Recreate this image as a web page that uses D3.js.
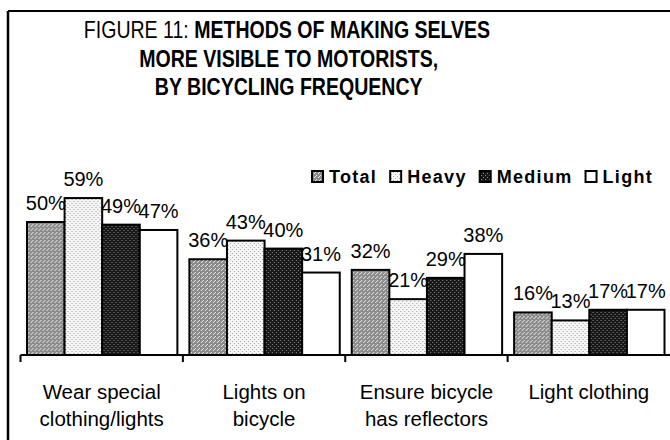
<!DOCTYPE html>
<html><head><meta charset="utf-8">
<script src="https://cdn.jsdelivr.net/npm/d3@7"></script>
<style>
html,body{margin:0;padding:0;background:#fff;}
svg{display:block;font-family:"Liberation Sans",Arial,sans-serif;}
</style></head>
<body>
<svg id="chart" width="670" height="440"></svg>
<script>
const categories = [["Wear special","clothing/lights"],["Lights on","bicycle"],["Ensure bicycle","has reflectors"],["Light clothing"]];
const seriesNames = ["Total","Heavy","Medium","Light"];
const totalVals  = [50,36,32,16];
const heavyVals  = [59,43,21,13];
const mediumVals = [49,40,29,17];
const lightVals  = [47,31,38,17];
const titleLines = ["MORE VISIBLE TO MOTORISTS,","BY BICYCLING FREQUENCY"];

const svg = d3.select("#chart");
const defs = svg.append("defs");

function pat(id, bg, dot, size, dots){
  const p = defs.append("pattern").attr("id",id).attr("patternUnits","userSpaceOnUse")
    .attr("width",size).attr("height",size);
  p.append("rect").attr("width",size).attr("height",size).attr("fill",bg);
  dots.forEach(d=>p.append("rect").attr("x",d[0]).attr("y",d[1]).attr("width",1).attr("height",1).attr("fill",dot));
}
pat("pTotal","#8a8a8a","#eeeeee",4,[[0,0],[2,2],[3,1]]);
pat("pHeavy","#f6f6f6","#a0a0a0",4,[[1,1],[3,3]]);
pat("pMedium","#181818","#8a8a8a",4,[[1,0],[3,2]]);
const fills = {Total:"url(#pTotal)",Heavy:"url(#pHeavy)",Medium:"url(#pMedium)",Light:"#ffffff"};

const data = categories.map((c,i)=>({cat:c.join(" "), lines:c,
  values:[totalVals[i],heavyVals[i],mediumVals[i],lightVals[i]]}));

// frame
svg.append("line").attr("x1",8).attr("x2",8).attr("y1",11).attr("y2",440).attr("stroke","#000").attr("stroke-width",2.5);
svg.append("line").attr("x1",8).attr("x2",670).attr("y1",11).attr("y2",11).attr("stroke","#000").attr("stroke-width",2);

// title (narrow face imitated by horizontal scaling)
const tg = svg.append("g").attr("transform","translate(287,0) scale(0.85,1)");
const t = tg.append("text").attr("x",0).attr("y",38).attr("text-anchor","middle").attr("font-size",23).attr("fill","#000");
t.append("tspan").text("FIGURE 11:  ");
t.append("tspan").attr("font-weight","bold").text("METHODS OF MAKING SELVES");
titleLines.forEach((l,i)=>tg.append("text").attr("x",2).attr("y",67+i*28).attr("text-anchor","middle")
  .attr("font-size",23).attr("font-weight","bold").text(l));

// scales
const x0 = d3.scaleBand().domain(data.map(d=>d.cat)).range([20.5,670]).padding(0);
const x1 = d3.scaleBand().domain(seriesNames).range([6.5, x0.bandwidth()-5.5]).padding(0);
const y = d3.scaleLinear().domain([0,60]).range([355,195.4]);

// bars
const groups = svg.append("g").selectAll("g.grp").data(data).join("g").attr("class","grp")
  .attr("transform",d=>`translate(${x0(d.cat)},0)`);
groups.selectAll("rect").data(d=>d.values.map((v,i)=>({s:seriesNames[i],v})))
  .join("rect")
  .attr("x",d=>x1(d.s)).attr("width",x1.bandwidth())
  .attr("y",d=>y(d.v)).attr("height",d=>y(0)-y(d.v))
  .attr("fill",d=>fills[d.s]).attr("stroke","#000").attr("stroke-width",2);
groups.selectAll("text.val").data(d=>d.values.map((v,i)=>({s:seriesNames[i],v})))
  .join("text").attr("class","val")
  .attr("x",d=>x1(d.s)+x1.bandwidth()/2).attr("y",d=>y(d.v)-12)
  .attr("text-anchor","middle").attr("font-size",20).text(d=>d.v+"%");

// x axis
const ax = svg.append("g").attr("transform","translate(0,355)");
ax.append("line").attr("x1",20.5).attr("x2",670).attr("stroke","#000").attr("stroke-width",2);
x0.domain().forEach(c=>ax.append("line").attr("x1",x0(c)).attr("x2",x0(c)).attr("y1",0).attr("y2",7).attr("stroke","#000").attr("stroke-width",2));
data.forEach(d=>{
  const cx = x0(d.cat)+x0.bandwidth()/2;
  const tx = svg.append("text").attr("text-anchor","middle").attr("font-size",20.5).attr("x",cx).attr("y",399);
  d.lines.forEach((l,i)=>tx.append("tspan").attr("x",cx).attr("dy",i?27:0).text(l));
});

// legend
const leg = svg.append("g").attr("transform","translate(312,183)");
let lx = 0;
seriesNames.forEach(s=>{
  leg.append("rect").attr("x",lx).attr("y",-12).attr("width",11).attr("height",11)
    .attr("fill",fills[s]).attr("stroke","#000").attr("stroke-width",2);
  const tt = leg.append("text").attr("x",lx+17).attr("y",0).attr("font-size",18).attr("font-weight","bold")
    .attr("letter-spacing",1.3).text(s);
  lx += 17 + tt.node().getComputedTextLength() + 13;
});
</script>
</body></html>
